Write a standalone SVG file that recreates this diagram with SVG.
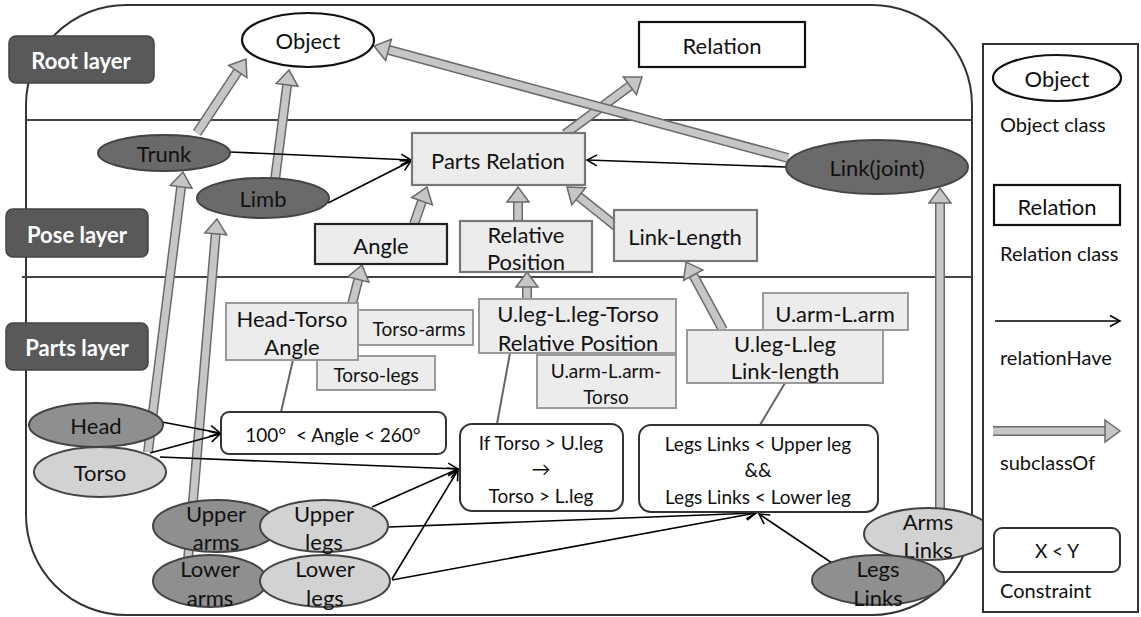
<svg xmlns="http://www.w3.org/2000/svg" width="1141" height="617" viewBox="0 0 1141 617">
<style>
text{font-family:Lato,"Liberation Sans",sans-serif;font-size:22px;fill:#111;text-anchor:middle;dominant-baseline:central}
.lay rect{fill:#595959;stroke:#444;stroke-width:1.5}
.lay text{fill:#fff;font-weight:bold;font-size:22px}
.dk{fill:#6a6a6a;stroke:#444;stroke-width:2}
.md{fill:#8f8f8f;stroke:#444;stroke-width:2}
.lt{fill:#d2d2d2;stroke:#444;stroke-width:2}
.wh{fill:#fff;stroke:#111;stroke-width:2.2}
.gb{fill:#ececec;stroke:#9a9a9a;stroke-width:2}
.gp{fill:#ececec;stroke:#777;stroke-width:2.2}
.cb{fill:#fff;stroke:#333;stroke-width:2}
.sm{font-size:19px}
.lg{font-size:20px;text-anchor:start}
.so-o{stroke:#6a6a6a;stroke-width:10;fill:none}
.so-i{stroke:#c6c6c6;stroke-width:7;fill:none}
.rh{stroke:#000;stroke-width:1.6;fill:none}
.gl{stroke:#666;stroke-width:2;fill:none}
</style>
<defs>
<marker id="so" markerUnits="userSpaceOnUse" markerWidth="18" markerHeight="26" viewBox="0 0 18 26" refX="1" refY="13" orient="auto"><path d="M1,2 L16,13 L1,24 Z" fill="#c6c6c6" stroke="#6a6a6a" stroke-width="1.5"/></marker>
<marker id="ah" markerUnits="userSpaceOnUse" markerWidth="14" markerHeight="14" viewBox="0 0 14 14" refX="12" refY="7" orient="auto"><path d="M2,1.5 L12,7 L2,12.5" fill="none" stroke="#000" stroke-width="1.6"/></marker>
</defs>
<g id="frame">
<rect x="26" y="5" width="946" height="610" rx="100" ry="100" fill="#fff" stroke="#333" stroke-width="2"/>
<line x1="26" y1="120" x2="972" y2="120" stroke="#444" stroke-width="2"/>
<line x1="22" y1="277" x2="972" y2="277" stroke="#444" stroke-width="2"/>
</g>
<g id="layer-root" class="lay"><rect x="9" y="36" width="145" height="47" rx="7"/><text x="81" y="60">Root layer</text></g>
<g id="layer-pose" class="lay"><rect x="6" y="209" width="142" height="48" rx="7"/><text x="77" y="234">Pose layer</text></g>
<g id="layer-parts" class="lay"><rect x="6" y="323" width="142" height="47" rx="7"/><text x="77" y="347">Parts layer</text></g>
<g id="connectors">
<g id="subclass">
<line class="so-o" x1="197" y1="133" x2="237.7" y2="71.5"/><line class="so-i" x1="197" y1="133" x2="237.7" y2="71.5" marker-end="url(#so)"/>
<line class="so-o" x1="275" y1="180" x2="287.1" y2="84.9"/><line class="so-i" x1="275" y1="180" x2="287.1" y2="84.9" marker-end="url(#so)"/>
<line class="so-o" x1="565" y1="134" x2="629.9" y2="85.9"/><line class="so-i" x1="565" y1="134" x2="629.9" y2="85.9" marker-end="url(#so)"/>
<line class="so-o" x1="788" y1="158" x2="388.5" y2="49.9"/><line class="so-i" x1="788" y1="158" x2="388.5" y2="49.9" marker-end="url(#so)"/>
<line class="so-o" x1="414" y1="224" x2="422" y2="201.2"/><line class="so-i" x1="414" y1="224" x2="422" y2="201.2" marker-end="url(#so)"/>
<line class="so-o" x1="518" y1="221" x2="518" y2="202"/><line class="so-i" x1="518" y1="221" x2="518" y2="202" marker-end="url(#so)"/>
<line class="so-o" x1="617" y1="227" x2="578.7" y2="196.4"/><line class="so-i" x1="617" y1="227" x2="578.7" y2="196.4" marker-end="url(#so)"/>
<line class="so-o" x1="352" y1="304" x2="358.3" y2="279.5"/><line class="so-i" x1="352" y1="304" x2="358.3" y2="279.5" marker-end="url(#so)"/>
<line class="so-o" x1="527" y1="300" x2="527" y2="287"/><line class="so-i" x1="527" y1="300" x2="527" y2="287" marker-end="url(#so)"/>
<line class="so-o" x1="723" y1="330" x2="693.2" y2="275.2"/><line class="so-i" x1="723" y1="330" x2="693.2" y2="275.2" marker-end="url(#so)"/>
<line class="so-o" x1="148" y1="452" x2="181.1" y2="186.9"/><line class="so-i" x1="148" y1="452" x2="181.1" y2="186.9" marker-end="url(#so)"/>
<line class="so-o" x1="188" y1="560" x2="215.7" y2="233.9"/><line class="so-i" x1="188" y1="560" x2="215.7" y2="233.9" marker-end="url(#so)"/>
<line class="so-o" x1="940" y1="512" x2="940" y2="203"/><line class="so-i" x1="940" y1="512" x2="940" y2="203" marker-end="url(#so)"/>
</g>
<g id="relationHave">
<line class="rh" x1="230" y1="152" x2="411" y2="160" marker-end="url(#ah)"/>
<line class="rh" x1="328" y1="203" x2="411" y2="161" marker-end="url(#ah)"/>
<line class="rh" x1="786" y1="167" x2="587" y2="160" marker-end="url(#ah)"/>
<line class="rh" x1="162" y1="422" x2="220" y2="433" marker-end="url(#ah)"/>
<line class="rh" x1="150" y1="453" x2="220" y2="434" marker-end="url(#ah)"/>
<line class="rh" x1="160" y1="457" x2="458" y2="469" marker-end="url(#ah)"/>
<line class="rh" x1="372" y1="507" x2="458" y2="469" marker-end="url(#ah)"/>
<line class="rh" x1="392" y1="579" x2="458" y2="470" marker-end="url(#ah)"/>
<line class="rh" x1="389" y1="527" x2="756" y2="513" marker-end="url(#ah)"/>
<line class="rh" x1="392" y1="580" x2="756" y2="513" marker-end="url(#ah)"/>
<line class="rh" x1="832" y1="563" x2="759" y2="514" marker-end="url(#ah)"/>
</g>
<g id="links">
<line class="gl" x1="293" y1="360" x2="281" y2="412"/>
<line class="gl" x1="510" y1="353" x2="497" y2="424"/>
<line class="gl" x1="785" y1="383" x2="760" y2="425"/>
</g>
</g>
<g id="n-object"><ellipse class="wh" cx="308" cy="40" rx="66" ry="27"/><text x="308" y="40">Object</text></g>
<g id="n-relation"><rect class="wh" x="639" y="22" width="166" height="45"/><text x="722" y="45">Relation</text></g>
<g id="n-parts-relation"><rect class="gp" x="412" y="133" width="173" height="52"/><text x="498" y="160">Parts Relation</text></g>
<g id="n-trunk"><ellipse class="dk" cx="164" cy="153" rx="66" ry="18"/><text x="164" y="153">Trunk</text></g>
<g id="n-limb"><ellipse class="dk" cx="263" cy="198" rx="66" ry="20"/><text x="263" y="198">Limb</text></g>
<g id="n-link-joint"><ellipse class="dk" cx="877" cy="167" rx="91" ry="27"/><text x="877" y="167">Link(joint)</text></g>
<g id="n-angle"><rect x="315" y="224" width="132" height="40" fill="#ececec" stroke="#222" stroke-width="2.2"/><text x="381" y="245">Angle</text></g>
<g id="n-relative-position"><rect class="gp" x="460" y="221" width="132" height="51"/><text x="526" y="234">Relative</text><text x="526" y="261">Position</text></g>
<g id="n-link-length"><rect class="gp" x="614" y="210" width="143" height="51"/><text x="685" y="236">Link-Length</text></g>
<g id="n-torso-arms"><rect class="gb" x="345" y="310" width="128" height="35"/><text class="sm" x="419" y="328">Torso-arms</text></g>
<g id="n-torso-legs"><rect class="gb" x="317" y="356" width="118" height="34"/><text class="sm" x="376" y="374">Torso-legs</text></g>
<g id="n-head-torso-angle"><rect class="gb" x="226" y="303" width="132" height="57"/><text x="292" y="318">Head-Torso</text><text x="292" y="346">Angle</text></g>
<g id="n-uarm-larm-torso"><rect class="gb" x="537" y="355" width="139" height="53"/><text class="sm" x="606" y="370">U.arm-L.arm-</text><text class="sm" x="606" y="396">Torso</text></g>
<g id="n-uleg-lleg-torso"><rect class="gb" x="479" y="299" width="197" height="54"/><text x="578" y="313">U.leg-L.leg-Torso</text><text x="578" y="342">Relative Position</text></g>
<g id="n-uarm-larm"><rect class="gb" x="763" y="293" width="145" height="37"/><text x="835" y="313">U.arm-L.arm</text></g>
<g id="n-uleg-lleg-link"><rect class="gb" x="687" y="330" width="196" height="53"/><text x="785" y="343">U.leg-L.leg</text><text x="785" y="370">Link-length</text></g>
<g id="c-angle"><rect class="cb" x="221" y="412" width="225" height="42" rx="8"/><text class="sm" x="333" y="434">100°&#160; &lt; Angle &lt; 260°</text></g>
<g id="c-torso"><rect class="cb" x="460" y="424" width="163" height="87" rx="12"/><text class="sm" x="541" y="442">If Torso &gt; U.leg</text><text class="sm" x="541" y="468">→</text><text class="sm" x="541" y="495">Torso &gt; L.leg</text></g>
<g id="c-legs"><rect class="cb" x="639" y="425" width="239" height="87" rx="12"/><text class="sm" x="758" y="443">Legs Links &lt; Upper leg</text><text class="sm" x="758" y="469">&amp;&amp;</text><text class="sm" x="758" y="496">Legs Links &lt; Lower leg</text></g>
<g id="n-head"><ellipse class="md" cx="96" cy="425" rx="67" ry="22"/><text x="96" y="425">Head</text></g>
<g id="n-torso"><ellipse class="lt" cx="100" cy="472" rx="66" ry="25"/><text x="100" y="472">Torso</text></g>
<g id="n-upper-arms"><ellipse class="md" cx="216" cy="526" rx="63" ry="26"/><text x="216" y="513">Upper</text><text x="216" y="541">arms</text></g>
<g id="n-upper-legs"><ellipse class="lt" cx="324" cy="526" rx="64" ry="26"/><text x="324" y="513">Upper</text><text x="324" y="541">legs</text></g>
<g id="n-lower-arms"><ellipse class="md" cx="210" cy="581" rx="57" ry="26"/><text x="210" y="568">Lower</text><text x="210" y="597">arms</text></g>
<g id="n-lower-legs"><ellipse class="lt" cx="325" cy="581" rx="65" ry="26"/><text x="325" y="568">Lower</text><text x="325" y="597">legs</text></g>
<g id="n-arms-links"><ellipse class="lt" cx="928" cy="534" rx="64" ry="26"/><text x="928" y="521">Arms</text><text x="928" y="549">Links</text></g>
<g id="n-legs-links"><ellipse class="md" cx="878" cy="580" rx="66" ry="25"/><text x="878" y="568">Legs</text><text x="878" y="597">Links</text></g>
<g id="legend">
<rect x="983" y="44" width="155" height="568" fill="#fff" stroke="#333" stroke-width="2"/>
<ellipse class="wh" cx="1057" cy="78" rx="64" ry="23"/><text x="1057" y="78">Object</text>
<text class="lg" x="1000" y="124">Object class</text>
<rect class="wh" x="994" y="185" width="126" height="40"/><text x="1057" y="206">Relation</text>
<text class="lg" x="1000" y="253">Relation class</text>
<line class="rh" x1="995" y1="321" x2="1120" y2="321" marker-end="url(#ah)"/>
<text class="lg" x="1000" y="357">relationHave</text>
<line class="so-o" x1="993" y1="431" x2="1105" y2="431"/><line class="so-i" x1="993" y1="431" x2="1105" y2="431" marker-end="url(#so)"/>
<text class="lg" x="1000" y="462">subclassOf</text>
<rect class="cb" x="994" y="528" width="126" height="44" rx="8"/><text class="sm" x="1057" y="550">X &lt; Y</text>
<text class="lg" x="1000" y="590">Constraint</text>
</g>
</svg>
